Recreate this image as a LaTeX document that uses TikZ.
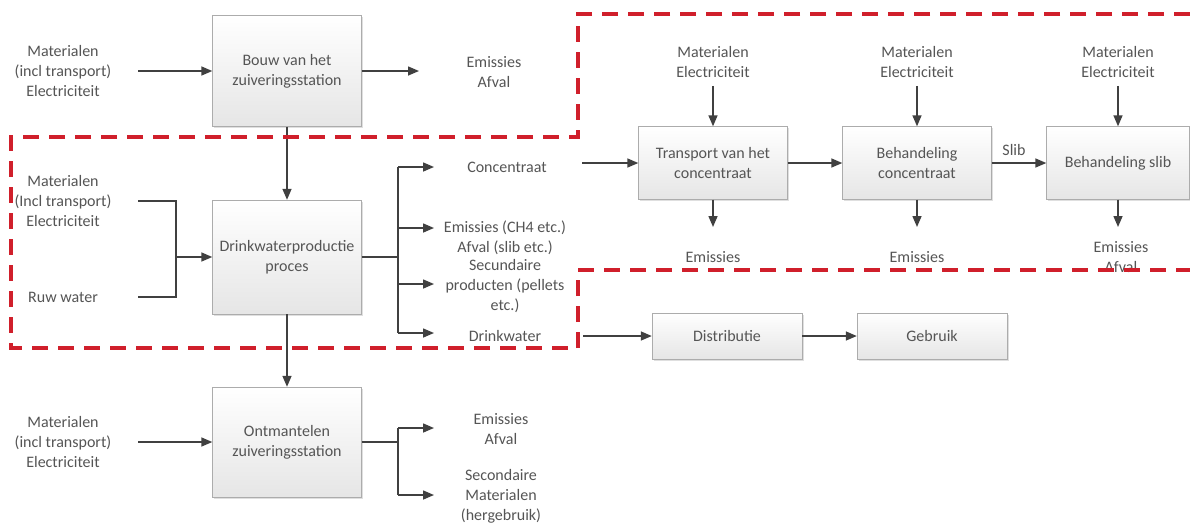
\documentclass[tikz,border=0pt]{standalone}
\usepackage{fontspec}
\setmainfont{Carlito}
\usetikzlibrary{arrows.meta,shadows}
\definecolor{tekstgrijs}{HTML}{555555}
\definecolor{lijngrijs}{HTML}{404040}
\definecolor{grensrood}{HTML}{D01F2B}

\begin{document}
\begin{tikzpicture}[x=1pt,y=-1pt]
                        \tikzstyle{proces}=[draw=gray!65, top color=white, bottom color=gray!20, minimum width=149pt, inner xsep=2pt, align=center, text=tekstgrijs, font=\fontsize{16}{20}\selectfont, drop shadow={opacity=0.25, shadow xshift=1.5pt, shadow yshift=-1.5pt}]
                        \tikzstyle{label}=[align=center, text=tekstgrijs, inner sep=1pt, font=\fontsize{16}{20}\selectfont]
                        \tikzstyle{stroom}=[-{Triangle[length=11pt,width=9pt]}, line width=1.5pt, draw=lijngrijs]
                        \tikzstyle{lijn}=[line width=1.5pt, draw=lijngrijs]
                        \tikzstyle{grens}=[draw=grensrood, line width=3.5pt, dash pattern=on 16pt off 10pt]
                        \useasboundingbox (0,0) rectangle (1190,523);
                        \fill[white] (0,0) rectangle (1190,523);
                        \node[proces, minimum height=111pt] (bouw) at (287,71) {Bouw van het\\zuiveringsstation};
                        \node[proces, minimum height=114pt] (productie) at (287,257) {Drinkwaterproductie\\proces};
                        \node[proces, minimum height=110pt] (ontmantelen) at (287,442) {Ontmantelen\\zuiveringsstation};
                        \node[proces, minimum height=73pt] (transport) at (713,163) {Transport van het\\concentraat};
                        \node[proces, minimum height=73pt] (behconc) at (917,163) {Behandeling\\concentraat};
                        \node[proces, minimum height=73pt, minimum width=143pt] (behslib) at (1118,163) {Behandeling slib};
                        \node[proces, minimum height=46pt, minimum width=150pt] (distributie) at (727,336) {Distributie};
                        \node[proces, minimum height=46pt, minimum width=150pt] (gebruik) at (932,336) {Gebruik};
                        \node[label] (inbouw) at (63,71) {Materialen\\(incl transport)\\Electriciteit};
                        \node[label] (uitbouw) at (494,72) {Emissies\\Afval};
                        \node[label] (inproductie) at (63,201) {Materialen\\(Incl transport)\\Electriciteit};
                        \node[label] (ruwwater) at (63,297) {Ruw water};
                        \node[label] (concentraat) at (507,167) {Concentraat};
                        \node[label] (emissies) at (505,238) {Emissies (CH4 etc.)\\Afval (slib etc.)};
                        \node[label] (secundair) at (505,286) {Secundaire\\producten (pellets\\etc.)};
                        \node[label] (drinkwater) at (505,336) {Drinkwater};
                        \node[label] (inontmantelen) at (63,442) {Materialen\\(incl transport)\\Electriciteit};
                        \node[label] (uitontmantelen) at (501,429) {Emissies\\Afval};
                        \node[label] (hergebruik) at (501,496) {Secondaire\\Materialen\\(hergebruik)};
                        \node[label] (intransport) at (713,62) {Materialen\\Electriciteit};
                        \node[label] (inbehconc) at (917,62) {Materialen\\Electriciteit};
                        \node[label] (inbehslib) at (1118,62) {Materialen\\Electriciteit};
                        \node[label] (uittransport) at (713,257) {Emissies};
                        \node[label] (uitbehconc) at (917,257) {Emissies};
                        \node[label] (uitbehslib) at (1121,257) {Emissies\\Afval};
                        \node[label] (slib) at (1014,150) {Slib};
                        \coordinate (bouwin) at (138,71);
                        \coordinate (bouwuit) at (419,71);
                        \coordinate (prodin1) at (138,201);
                        \coordinate (prodin2) at (138,297);
                        \coordinate (prodsamen) at (176,257);
                        \coordinate (prodsplit) at (398,257);
                        \coordinate (prodboven) at (398,167);
                        \coordinate (prodonder) at (398,333);
                        \coordinate (pijl1) at (434,167);
                        \coordinate (pijl2) at (434,228);
                        \coordinate (pijl3) at (434,284);
                        \coordinate (pijl4) at (434,333);
                        \coordinate (concstart) at (582,163);
                        \coordinate (dwstart) at (583,336);
                        \coordinate (ontmin) at (138,442);
                        \coordinate (ontmsplit) at (398,442);
                        \coordinate (ontmboven) at (398,428);
                        \coordinate (ontmonder) at (398,495);
                        \coordinate (pijl5) at (434,428);
                        \coordinate (pijl6) at (434,495);
                        \coordinate (emis1) at (713,227);
                        \coordinate (emis2) at (917,227);
                        \coordinate (emis3) at (1118,227);
                        \draw[stroom] (bouwin) -- (bouw.west);
                        \draw[stroom] (bouw.east) -- (bouwuit);
                        \draw[stroom] (bouw.south) -- (productie.north);
                        \draw[lijn] (prodin1) -| (prodsamen) |- (prodin2);
                        \draw[stroom] (prodsamen) -- (productie.west);
                        \draw[lijn] (productie.east) -- (prodsplit);
                        \draw[lijn] (prodboven) -- (prodonder);
                        \draw[stroom] (prodboven) -- (pijl1);
                        \draw[stroom] (prodboven |- pijl2) -- (pijl2);
                        \draw[stroom] (prodboven |- pijl3) -- (pijl3);
                        \draw[stroom] (prodonder) -- (pijl4);
                        \draw[stroom] (productie.south) -- (ontmantelen.north);
                        \draw[stroom] (ontmin) -- (ontmantelen.west);
                        \draw[lijn] (ontmantelen.east) -- (ontmsplit);
                        \draw[lijn] (ontmboven) -- (ontmonder);
                        \draw[stroom] (ontmboven) -- (pijl5);
                        \draw[stroom] (ontmonder) -- (pijl6);
                        \draw[stroom] (concstart) -- (transport.west);
                        \draw[stroom] (transport) -- (behconc);
                        \draw[stroom] (behconc) -- (behslib);
                        \draw[stroom, shorten <=7pt] (intransport.south) -- (transport.north);
                        \draw[stroom, shorten <=7pt] (inbehconc.south) -- (behconc.north);
                        \draw[stroom, shorten <=7pt] (inbehslib.south) -- (behslib.north);
                        \draw[stroom] (transport.south) -- (emis1);
                        \draw[stroom] (behconc.south) -- (emis2);
                        \draw[stroom] (behslib.south) -- (emis3);
                        \draw[stroom] (dwstart) -- (distributie.west);
                        \draw[stroom] (distributie) -- (gebruik);
                        \draw[grens] (1190,14) -- (578,14) -- (578,137) -- (11,137) -- (11,348) -- (578,348) -- (578,270) -- (1190,270);
                    \end{tikzpicture}
\end{document}
